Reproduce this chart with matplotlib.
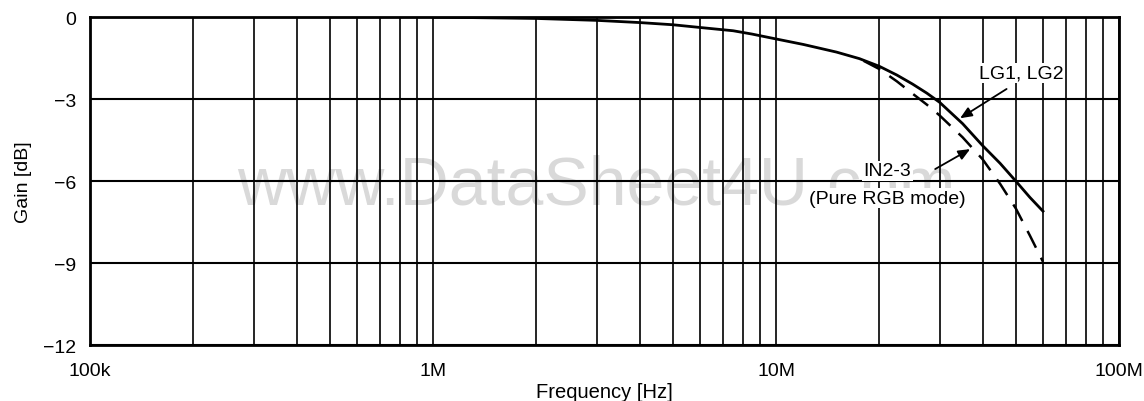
import numpy as np
import matplotlib.pyplot as plt
from matplotlib.ticker import FixedLocator, NullFormatter

plt.rcParams['font.family'] = ['Liberation Sans', 'DejaVu Sans']

# frequency response, read at log-spaced points
freq_lg = [1e6, 2e6, 3e6, 4e6, 5e6, 6e6, 7.5e6, 8.5e6, 10e6, 12e6, 15e6, 17.5e6, 20e6,
           22.5e6, 25e6, 27.5e6, 30e6, 35e6, 40e6, 45e6, 50e6, 55e6, 60e6]
gain_lg = [0.0, -0.05, -0.12, -0.2, -0.28, -0.38, -0.5, -0.62, -0.8, -1.0, -1.28, -1.52, -1.8,
           -2.12, -2.45, -2.78, -3.12, -3.9, -4.7, -5.35, -6.0, -6.6, -7.1]

freq_rgb = [18e6, 20e6, 22.5e6, 25e6, 27.5e6, 30e6, 35e6, 40e6, 45e6, 50e6, 55e6, 60e6]
gain_rgb = [-1.6, -1.9, -2.35, -2.8, -3.2, -3.6, -4.4, -5.2, -6.1, -7.0, -8.0, -8.95]

xticks = [1e5, 1e6, 1e7, 1e8]
xtick_labels = ['100k', '1M', '10M', '100M']
yticks = [0, -3, -6, -9, -12]
ytick_labels = ['0', '\u22123', '\u22126', '\u22129', '\u221212']

fig = plt.figure(figsize=(11.44, 4.02), dpi=100)
ax = fig.add_axes([0.0787, 0.139, 0.8995, 0.816])
ax.patch.set_alpha(0)

# faint watermark, drawn before the axes so grid and curves sit on top
fig.text(0.521, 1 - 205 / 402, 'www.DataSheet4U.com', fontsize=49,
         color='#d9d9d9', ha='center', va='baseline', zorder=-1)

ax.set_xscale('log')
ax.set_xlim(1e5, 1e8)
ax.set_ylim(-12, 0)

ax.set_xticks(xticks)
ax.set_xticklabels(xtick_labels)
minors = [m * 10 ** d for d in range(5, 8) for m in range(2, 10)]
ax.xaxis.set_minor_locator(FixedLocator(minors))
ax.xaxis.set_minor_formatter(NullFormatter())
ax.set_yticks(yticks)
ax.set_yticklabels(ytick_labels)

ax.tick_params(which='both', length=0, labelsize=14)
ax.tick_params(axis='x', pad=12)
ax.tick_params(axis='y', pad=10)

ax.grid(True, which='major', axis='y', color='black', lw=1.5)
ax.grid(True, which='both', axis='x', color='black', lw=1.2)
for s in ax.spines.values():
    s.set_linewidth(2)

ax.plot(freq_lg, gain_lg, color='black', lw=2.0, zorder=3)
ax.plot(freq_rgb, gain_rgb, color='black', lw=1.8, dashes=(7.5, 4.5), zorder=3)

ax.set_xlabel('Frequency [Hz]', fontsize=14.5, labelpad=2)
ax.set_ylabel('Gain [dB]', fontsize=14, labelpad=8)

arrow = dict(arrowstyle='-|>,head_length=0.7,head_width=0.3', color='black', lw=1.3,
             shrinkA=0, shrinkB=0)
bg = dict(facecolor='white', edgecolor='none', pad=1)

ax.text(52e6, -2.05, 'LG1, LG2', fontsize=14, ha='center', va='center', zorder=4, bbox=bg)
ax.annotate('', xy=(34.4e6, -3.7), xytext=(47e6, -2.63), arrowprops=arrow, zorder=4)

ax.text(21.1e6, -5.63, 'IN2-3', fontsize=14, ha='center', va='center', zorder=4, bbox=bg)
ax.text(21.1e6, -6.62, '(Pure RGB mode)', fontsize=14, ha='center', va='center', zorder=4,
        bbox=bg)
ax.annotate('', xy=(36.8e6, -4.83), xytext=(29.1e6, -5.56), arrowprops=arrow, zorder=4)

fig.savefig('out.png', dpi=100)
